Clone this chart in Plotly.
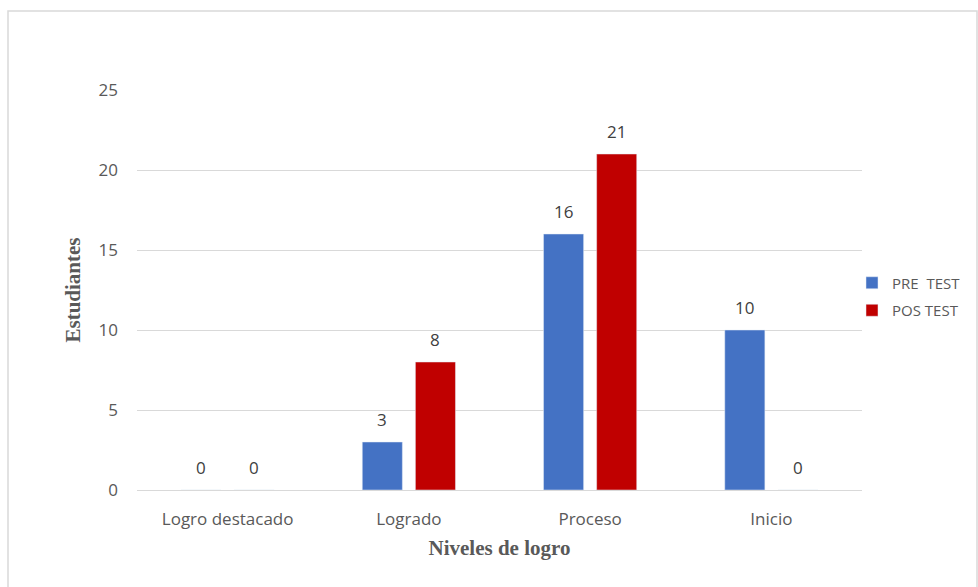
import plotly.graph_objects as go

categories = ["Logro destacado", "Logrado", "Proceso", "Inicio"]
pre_test = [0, 3, 16, 10]
pos_test = [0, 8, 21, 0]
series_names = ["PRE  TEST", "POS TEST"]
y_ticks = [0, 5, 10, 15, 20, 25]

colors = ["#4472C4", "#C00000"]
font_sans = "Open Sans, Calibri, Liberation Sans, sans-serif"
font_serif = "Liberation Serif, Times New Roman, serif"

fig = go.Figure()
for name, vals, col, grp in zip(series_names, [pre_test, pos_test], colors, ["a", "b"]):
    fig.add_trace(go.Bar(
        x=categories, y=vals, name=name, marker_color=col,
        legendgroup=grp,
    ))

# data labels
for vals, shift in zip([pre_test, pos_test], [-26.5, 26.5]):
    for c, v in zip(categories, vals):
        fig.add_annotation(
            x=c, y=v, text=str(v), showarrow=False,
            xshift=shift, yshift=9, yanchor="bottom",
            font=dict(family=font_sans, size=17, color="#404040"),
        )

fig.update_layout(
    width=978, height=587,
    margin=dict(l=137, r=116, t=90, b=97, autoexpand=False),
    paper_bgcolor="white", plot_bgcolor="white",
    barmode="group", bargap=0.414, bargroupgap=0.245,
    showlegend=True,
    legend=dict(
        xref="container", yref="container",
        x=852 / 978, y=1 - 296.5 / 587, xanchor="left", yanchor="middle",
        font=dict(family=font_sans, size=15, color="#595959"),
        tracegroupgap=5, traceorder="grouped",
        itemwidth=30, bgcolor="rgba(0,0,0,0)",
    ),
    font=dict(family=font_sans, color="#595959"),
)

fig.update_yaxes(
    range=[0, 25], tickvals=y_ticks, showgrid=True, gridcolor="#d9d9d9",
    gridwidth=1, zeroline=False, showline=False,
    tickfont=dict(family=font_sans, size=17, color="#595959"),
    ticklabelstandoff=18,
    title=dict(text="Estudiantes", standoff=12,
               font=dict(family=font_serif, size=21, color="#595959", weight="bold")),
)
fig.update_xaxes(
    showline=True, linecolor="#d9d9d9", linewidth=1,
    tickfont=dict(family=font_sans, size=17, color="#595959"),
    ticklabelstandoff=14,
    title=dict(text="Niveles de logro", standoff=10,
               font=dict(family=font_serif, size=21, color="#595959", weight="bold")),
)

# chart-area border
fig.add_shape(
    type="rect", xref="paper", yref="paper",
    x0=(8 - 137) / 725, x1=(977 - 137) / 725,
    y0=(490 - 600) / 400, y1=(490 - 11) / 400,
    line=dict(color="#d9d9d9", width=1.5), fillcolor="rgba(0,0,0,0)",
    layer="below",
)

fig.write_html("out.html", config={"displayModeBar": False},
               post_script="document.body.style.margin='0';")
